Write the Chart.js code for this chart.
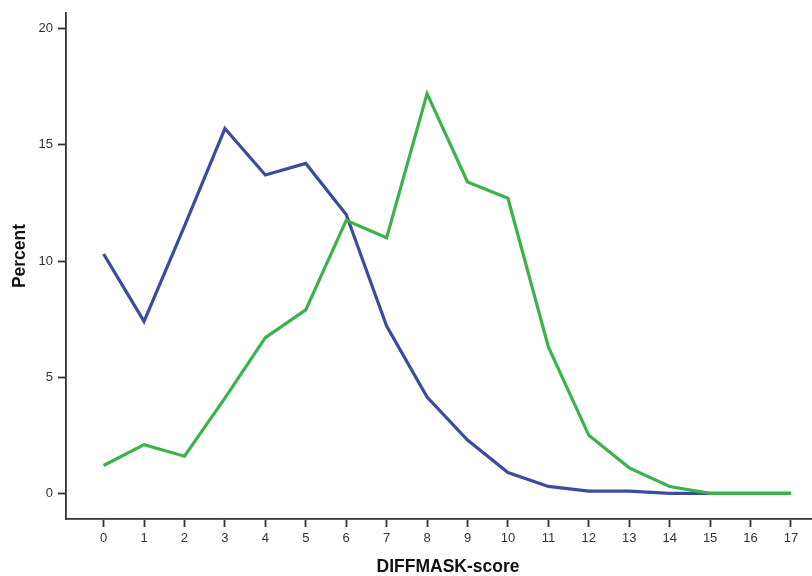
<!DOCTYPE html>
<html>
<head>
<meta charset="utf-8">
<style>
html,body{margin:0;padding:0;background:#fff;}
#wrap{width:812px;height:576px;position:relative;}
</style>
<script src="https://cdn.jsdelivr.net/npm/chart.js@4/dist/chart.umd.min.js"></script>
</head>
<body>
<div id="wrap"><canvas id="c" width="812" height="576"></canvas></div>
<script>
const scores = [0,1,2,3,4,5,6,7,8,9,10,11,12,13,14,15,16,17];
const blueSeries = [10.3,7.4,11.5,15.7,13.7,14.2,12.0,7.2,4.15,2.3,0.9,0.3,0.1,0.1,0,0,0,0];
const greenSeries = [1.2,2.1,1.6,4.1,6.7,7.9,11.75,11.0,17.2,13.4,12.7,6.3,2.5,1.1,0.3,0,0,0];
const yTicks = [0,5,10,15,20];
const xLabel = 'DIFFMASK-score';
const yLabel = 'Percent';

const toPts = arr => scores.map((s,i)=>({x:s,y:arr[i]}));
const axisColor = '#333333';
const fam = 'Arial, "Liberation Sans", sans-serif';
const tickFont = {family:fam, size:13};

const axisTitles = {
  id:'axisTitles',
  afterDraw(chart){
    const ctx = chart.ctx;
    ctx.save();
    ctx.fillStyle = '#111';
    ctx.font = 'bold 17.5px ' + fam;
    ctx.textAlign = 'center';
    ctx.textBaseline = 'middle';
    ctx.fillText(xLabel, 448, 567);
    ctx.translate(20, 256);
    ctx.rotate(-Math.PI/2);
    ctx.fillText(yLabel, 0, 0);
    ctx.restore();
  }
};

new Chart(document.getElementById('c'), {
  type:'line',
  data:{
    datasets:[
      {data:toPts(greenSeries), borderColor:'#3bb24a', borderWidth:3.2, pointRadius:0, tension:0, fill:false, order:1},
      {data:toPts(blueSeries), borderColor:'#3a4c9e', borderWidth:3.2, pointRadius:0, tension:0, fill:false, order:2}
    ]
  },
  options:{
    responsive:false,
    animation:false,
    devicePixelRatio:1,
    layout:{padding:{top:9,right:0,bottom:0,left:0}},
    plugins:{legend:{display:false},tooltip:{enabled:false}},
    scales:{
      x:{
        type:'linear', min:-0.93, max:17.52,
        afterBuildTicks:s=>{s.ticks = scores.map(v=>({value:v}));},
        afterFit:s=>{s.height=57;},
        grid:{display:true, drawOnChartArea:false, drawTicks:true, tickLength:8, tickColor:axisColor, tickWidth:1.8},
        border:{display:true, color:axisColor, width:1.8},
        ticks:{color:'#333', font:tickFont, padding:4, autoSkip:false, maxRotation:0}
      },
      y:{
        type:'linear', min:-1.1, max:20.68,
        afterBuildTicks:s=>{s.ticks = yTicks.map(v=>({value:v}));},
        afterFit:s=>{s.width=66;},
        grid:{display:true, drawOnChartArea:false, drawTicks:true, tickLength:8, tickColor:axisColor, tickWidth:1.8},
        border:{display:true, color:axisColor, width:1.8},
        ticks:{color:'#333', font:tickFont, padding:5}
      }
    }
  },
  plugins:[axisTitles]
});
</script>
</body>
</html>
